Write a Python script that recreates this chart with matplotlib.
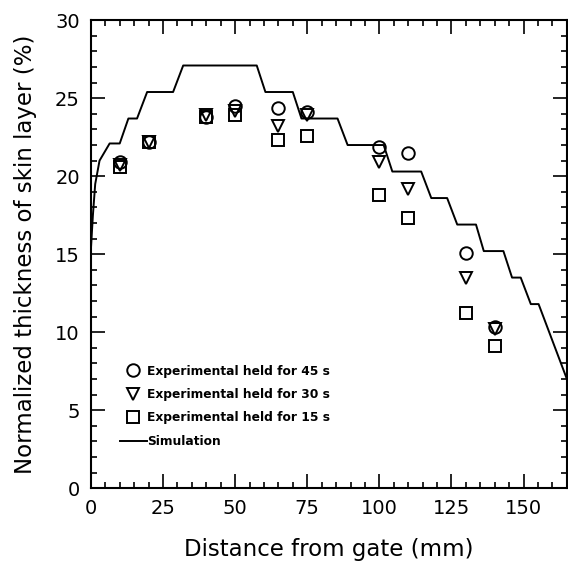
import matplotlib.pyplot as plt
from matplotlib.ticker import MultipleLocator

# Simulation curve (stepwise)
sim_x = [0, 0.7, 1.5, 3, 6.5, 10, 13, 16, 19.5, 28.5, 32, 57.5, 60.5, 70, 73, 85.5, 89,
         101.5, 104.5, 114.5, 118, 123.5, 127, 133.5, 136.2, 143, 146, 149, 152.5, 155.2, 165]
sim_y = [15.3, 17.5, 19.5, 21.0, 22.1, 22.1, 23.7, 23.7, 25.4, 25.4, 27.1, 27.1, 25.4, 25.4,
         23.7, 23.7, 22.0, 22.0, 20.3, 20.3, 18.6, 18.6, 16.9, 16.9, 15.2, 15.2, 13.5, 13.5,
         11.8, 11.8, 7.0]

# Experimental points
exp_x = [10, 20, 40, 50, 65, 75, 100, 110, 130, 140]
held_45 = [20.9, 22.2, 23.8, 24.5, 24.4, 24.1, 21.9, 21.5, 15.1, 10.3]
held_30 = [20.7, 22.2, 23.9, 24.2, 23.2, 23.9, 20.9, 19.2, 13.5, 10.2]
held_15 = [20.6, 22.2, 23.8, 23.9, 22.3, 22.6, 18.8, 17.3, 11.2, 9.1]

fig = plt.figure(figsize=(5.68, 5.63), dpi=100)
ax = fig.add_axes([0.160, 0.133, 0.838, 0.831])

ms = 9
ax.plot(exp_x, held_45, linestyle="none", marker="o", ms=ms, mfc="none", mec="black", mew=1.4,
        label="Experimental held for 45 s")
ax.plot(exp_x, held_30, linestyle="none", marker="v", ms=ms, mfc="none", mec="black", mew=1.4,
        label="Experimental held for 30 s")
ax.plot(exp_x, held_15, linestyle="none", marker="s", ms=ms - 1, mfc="none", mec="black", mew=1.4,
        label="Experimental held for 15 s")
ax.plot(sim_x, sim_y, color="black", lw=1.4, label="Simulation")

ax.set_xlim(0, 165)
ax.set_ylim(0, 30)
ax.xaxis.set_major_locator(MultipleLocator(25))
ax.xaxis.set_minor_locator(MultipleLocator(5))
ax.yaxis.set_major_locator(MultipleLocator(5))
ax.yaxis.set_minor_locator(MultipleLocator(1))
ax.tick_params(which="both", direction="in", top=True, right=True, width=1.2)
ax.tick_params(which="major", length=10, labelsize=14, pad=8)
ax.tick_params(which="minor", length=4)
for s in ax.spines.values():
    s.set_linewidth(1.5)

ax.set_xlabel("Distance from gate (mm)", fontsize=16.5, labelpad=14)
ax.set_ylabel("Normalized thickness of skin layer (%)", fontsize=16.5, labelpad=13)

leg = ax.legend(loc="lower left", bbox_to_anchor=(0.061, 0.086), frameon=False,
                prop={"size": 8.8, "weight": "bold"}, handlelength=2.2, handletextpad=0.05,
                labelspacing=0.85, borderpad=0, borderaxespad=0)

fig.savefig("out.png", dpi=100)
